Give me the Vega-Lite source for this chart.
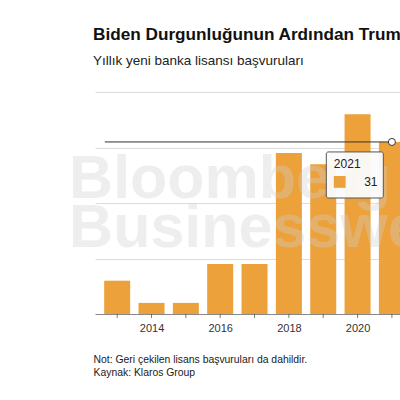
{
  "$schema": "https://vega.github.io/schema/vega-lite/v6.json",
  "autosize": "none",
  "padding": {"left": 95, "top": 92, "right": 0, "bottom": 86},
  "width": 305,
  "height": 222,
  "background": "white",
  "config": {
    "font": "Liberation Sans",
    "view": {"stroke": null}
  },
  "title": {
    "text": "Biden Durgunluğunun Ardından Trump",
    "subtitle": "Yıllık yeni banka lisansı başvuruları",
    "anchor": "start",
    "frame": "group",
    "dx": -2,
    "offset": 25,
    "fontSize": 17.2,
    "fontWeight": "bold",
    "color": "#111111",
    "subtitleFontSize": 13.5,
    "subtitleColor": "#222222",
    "subtitlePadding": 10
  },
  "datasets": {
    "apps": [
      {"year": 2013, "count": 6},
      {"year": 2014, "count": 2},
      {"year": 2015, "count": 2},
      {"year": 2016, "count": 9},
      {"year": 2017, "count": 9},
      {"year": 2018, "count": 29},
      {"year": 2019, "count": 27},
      {"year": 2020, "count": 36},
      {"year": 2021, "count": 31}
    ],
    "brand": [
      {"year": 2011.6, "count": 20.9, "word": "Bloomberg"},
      {"year": 2011.6, "count": 12.1, "word": "Businessweek"}
    ],
    "hover": [
      {"year": 2021, "count": 31, "from": 2012.64}
    ],
    "box": [
      {"x1": 2019.09, "x2": 2020.75, "y1": 29.2, "y2": 20.9}
    ],
    "boxYear": [
      {"year": 2019.31, "count": 26.3, "label": "2021"}
    ],
    "boxValue": [
      {"year": 2020.58, "count": 23.1, "label": "31"}
    ]
  },
  "layer": [
    {
      "data": {"name": "apps"},
      "mark": {"type": "bar", "size": 26, "color": "#eca13a"},
      "encoding": {
        "x": {
          "field": "year",
          "type": "quantitative",
          "scale": {"domain": [2012.5, 2021.09], "nice": false, "zero": false},
          "axis": {
            "values": [2014, 2016, 2018, 2020],
            "format": "d",
            "labelOverlap": false,
            "grid": false,
            "ticks": false,
            "domainColor": "#888888",
            "domainWidth": 1,
            "labelPadding": 8,
            "labelFontSize": 11,
            "labelColor": "#333333",
            "labelFlush": false,
            "title": ["Not: Geri çekilen lisans başvuruları da dahildir.", "Kaynak: Klaros Group"],
            "titleFontSize": 10.4,
            "titleFontWeight": "normal",
            "titleColor": "#1a1a1a",
            "titleAlign": "left",
            "titleAnchor": "start",
            "titleBaseline": "alphabetic",
            "titleLineHeight": 13,
            "titleX": -2,
            "titleY": 48
          }
        },
        "y": {
          "field": "count",
          "type": "quantitative",
          "scale": {"domain": [0, 40], "nice": false},
          "axis": {
            "orient": "right",
            "values": [10, 20, 30, 40],
            "labels": false,
            "ticks": false,
            "domain": false,
            "title": null,
            "gridColor": "#dcdcdc",
            "gridWidth": 1
          }
        }
      }
    },
    {
      "data": {"name": "apps"},
      "mark": {"type": "tick", "orient": "vertical", "size": 4, "thickness": 1, "yOffset": 2, "color": "#444444"},
      "encoding": {
        "x": {"field": "year", "type": "quantitative"},
        "y": {"datum": 0, "type": "quantitative"}
      }
    },
    {
      "data": {"name": "brand"},
      "mark": {"type": "text", "align": "left", "baseline": "alphabetic", "fontSize": 61, "fontWeight": "bold", "color": "#d0d0d0", "opacity": 0.35},
      "encoding": {
        "x": {"field": "year", "type": "quantitative"},
        "y": {"field": "count", "type": "quantitative"},
        "text": {"field": "word"}
      }
    },
    {
      "data": {"name": "hover"},
      "mark": {"type": "rule", "color": "#333333", "strokeWidth": 1},
      "encoding": {
        "x": {"field": "from", "type": "quantitative"},
        "x2": {"field": "year"},
        "y": {"field": "count", "type": "quantitative"}
      }
    },
    {
      "data": {"name": "hover"},
      "mark": {"type": "point", "shape": "circle", "size": 50, "filled": true, "fill": "white", "stroke": "#333333", "strokeWidth": 1, "opacity": 1},
      "encoding": {
        "x": {"field": "year", "type": "quantitative"},
        "y": {"field": "count", "type": "quantitative"}
      }
    },
    {
      "data": {"name": "box"},
      "mark": {"type": "rect", "fill": "#fbfbfb", "fillOpacity": 0.95, "stroke": "#555555", "strokeWidth": 1, "cornerRadius": 2},
      "encoding": {
        "x": {"field": "x1", "type": "quantitative"},
        "x2": {"field": "x2"},
        "y": {"field": "y1", "type": "quantitative"},
        "y2": {"field": "y2"}
      }
    },
    {
      "data": {"name": "boxYear"},
      "mark": {"type": "text", "align": "left", "baseline": "alphabetic", "fontSize": 12, "color": "#222222"},
      "encoding": {
        "x": {"field": "year", "type": "quantitative"},
        "y": {"field": "count", "type": "quantitative"},
        "text": {"field": "label"}
      }
    },
    {
      "data": {"name": "boxValue"},
      "mark": {"type": "text", "align": "right", "baseline": "alphabetic", "fontSize": 12, "color": "#222222"},
      "encoding": {
        "x": {"field": "year", "type": "quantitative"},
        "y": {"field": "count", "type": "quantitative"},
        "text": {"field": "label"}
      }
    },
    {
      "data": {"name": "hover"},
      "mark": {"type": "square", "size": 140, "filled": true, "color": "#eca13a", "opacity": 1},
      "encoding": {
        "x": {"datum": 2019.48, "type": "quantitative"},
        "y": {"datum": 23.8, "type": "quantitative"}
      }
    }
  ]
}
